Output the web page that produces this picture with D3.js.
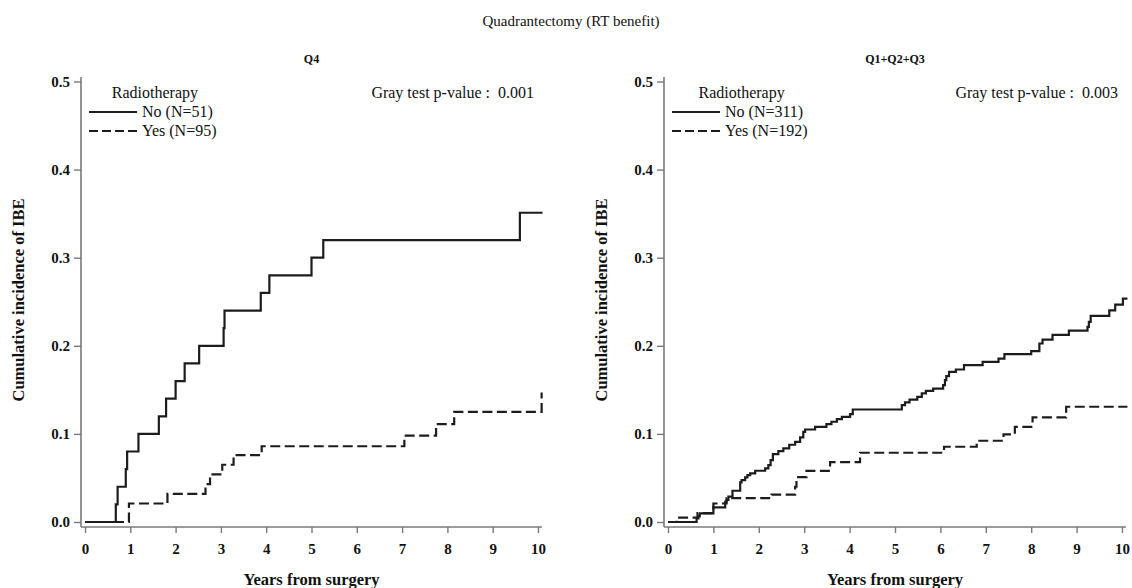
<!DOCTYPE html>
<html>
<head>
<meta charset="utf-8">
<script src="https://cdn.jsdelivr.net/npm/d3@7"></script>
<style>
  body { margin: 0; background: #fff; }
  svg text { font-family: "Liberation Serif", "Times New Roman", serif; fill: #111; }
</style>
</head>
<body>
<svg id="chart" width="1132" height="588"></svg>
<script>
// panel titles, legend and test text
const panelTitles = ['Q4', 'Q1+Q2+Q3'];
const pValues = ['0.001', '0.003'];
const legendNo = ['No (N=51)', 'No (N=311)'];
const legendYes = ['Yes (N=95)', 'Yes (N=192)'];
const xTicks = [0, 1, 2, 3, 4, 5, 6, 7, 8, 9, 10];
const yTicks = [0, 0.1, 0.2, 0.3, 0.4, 0.5];

// Q4, no radiotherapy
const q4NoTime = [0, 0.68, 0.72, 0.90, 0.93, 1.18, 1.63, 1.79, 2.0, 2.2, 2.52, 3.06, 3.08, 3.88, 4.07, 5.0, 5.26, 9.6, 10.1];
const q4NoCif = [0, 0.02, 0.04, 0.06, 0.08, 0.10, 0.12, 0.14, 0.16, 0.18, 0.20, 0.22, 0.24, 0.26, 0.28, 0.30, 0.32, 0.351, 0.351];
// Q4, radiotherapy
const q4YesTime = [0, 0.97, 1.82, 2.66, 2.76, 3.03, 3.28, 3.9, 7.05, 7.75, 8.15, 10.08];
const q4YesCif = [0, 0.021, 0.032, 0.043, 0.054, 0.065, 0.076, 0.086, 0.098, 0.111, 0.125, 0.147];

// Q1+Q2+Q3, no radiotherapy
const qOthNoTime = [0, 0.63, 0.67, 0.70, 1.0, 1.26, 1.29, 1.33, 1.42, 1.59, 1.62, 1.70, 1.75, 1.81, 1.92,
  2.14, 2.21, 2.26, 2.31, 2.43, 2.54, 2.67, 2.80, 2.91, 2.98, 3.02, 3.24, 3.49, 3.60, 3.72, 3.83, 4.01, 4.07,
  5.15, 5.22, 5.32, 5.49, 5.59, 5.68, 5.84, 6.06, 6.10, 6.13, 6.19, 6.34, 6.52, 6.93, 7.28, 7.41,
  8.00, 8.18, 8.25, 8.47, 8.83, 9.24, 9.27, 9.31, 9.72, 9.85, 10.02, 10.12];
const qOthNoCif = [0, 0.004, 0.0064, 0.0098, 0.0166, 0.023, 0.025, 0.0287, 0.0355, 0.045, 0.0476, 0.0506, 0.0533, 0.0552, 0.0582,
  0.0608, 0.0646, 0.0703, 0.077, 0.0805, 0.0835, 0.0877, 0.091, 0.096, 0.1024, 0.105, 0.108, 0.111, 0.1138, 0.1168, 0.1194, 0.1224, 0.1277,
  0.1327, 0.1357, 0.139, 0.1421, 0.1459, 0.1489, 0.1515, 0.1553, 0.161, 0.1655, 0.1704, 0.1731, 0.178, 0.1818, 0.1855, 0.1905,
  0.1939, 0.2026, 0.2071, 0.2124, 0.2173, 0.2215, 0.2271, 0.2339, 0.2403, 0.2468, 0.2536, 0.2536];
// Q1+Q2+Q3, radiotherapy
const qOthYesTime = [0, 0.19, 0.65, 1.0, 1.29, 2.28, 2.80, 2.83, 3.05, 3.57, 4.23, 6.08, 6.80, 7.39, 7.64, 8.03, 8.77, 10.12];
const qOthYesCif = [0, 0.005, 0.01, 0.021, 0.027, 0.031, 0.04, 0.051, 0.058, 0.068, 0.0786, 0.0854, 0.0922, 0.0994, 0.108, 0.1187, 0.1308, 0.1308];

const svg = d3.select('#chart');
const ink = '#1c1c1c';
const axisGrey = '#7a7a7a';

svg.append('text')
  .attr('x', 571).attr('y', 26)
  .attr('text-anchor', 'middle')
  .attr('font-size', 15)
  .text('Quadrantectomy (RT benefit)');

const panels = [
  { x0: 85, x1: 538, axisX: 81, no: [q4NoTime, q4NoCif], yes: [q4YesTime, q4YesCif] },
  { x0: 668, x1: 1122, axisX: 664, no: [qOthNoTime, qOthNoCif], yes: [qOthYesTime, qOthYesCif] }
];

const y = d3.scaleLinear().domain([0, 0.5]).range([522, 81.5]);
const axisY = 527;

panels.forEach((p, i) => {
  const x = d3.scaleLinear().domain([0, 10]).range([p.x0, p.x1]);
  const g = svg.append('g');
  const mid = (p.x0 + p.x1) / 2;

  // axes
  const yAxis = g.append('g')
    .attr('transform', `translate(${p.axisX},0)`)
    .call(d3.axisLeft(y).tickValues(yTicks).tickFormat(d3.format('.1f')).tickSize(7).tickPadding(4));
  const xAxis = g.append('g')
    .attr('transform', `translate(0,${axisY})`)
    .call(d3.axisBottom(x).tickValues(xTicks).tickFormat(d3.format('d')).tickSize(6).tickPadding(10));
  [yAxis, xAxis].forEach(a => {
    a.select('.domain').remove();
    a.selectAll('line').attr('stroke', axisGrey).attr('stroke-width', 1.4);
    a.selectAll('text')
      .attr('font-family', '"Liberation Serif", serif')
      .attr('font-weight', 'bold').attr('font-size', 15).attr('fill', '#111');
  });
  g.append('line')
    .attr('x1', p.axisX).attr('x2', p.axisX)
    .attr('y1', 77).attr('y2', axisY)
    .attr('stroke', axisGrey).attr('stroke-width', 1.6);
  g.append('line')
    .attr('x1', p.axisX).attr('x2', x(10) + 4)
    .attr('y1', axisY).attr('y2', axisY)
    .attr('stroke', axisGrey).attr('stroke-width', 1.6);

  // titles
  g.append('text')
    .attr('x', mid).attr('y', 63)
    .attr('text-anchor', 'middle')
    .attr('font-size', 12).attr('font-weight', 'bold')
    .text(panelTitles[i]);
  g.append('text')
    .attr('x', mid).attr('y', 585)
    .attr('text-anchor', 'middle')
    .attr('font-size', 16.5).attr('font-weight', 'bold')
    .text('Years from surgery');
  g.append('text')
    .attr('transform', `translate(${p.axisX - 57},300) rotate(-90)`)
    .attr('text-anchor', 'middle')
    .attr('font-size', 16.5).attr('font-weight', 'bold')
    .text('Cumulative incidence of IBE');

  // curves
  const line = d3.line()
    .x(d => x(d[0]))
    .y(d => y(d[1]))
    .curve(d3.curveStepAfter);
  g.append('path')
    .datum(d3.zip(p.no[0], p.no[1]))
    .attr('d', line)
    .attr('fill', 'none').attr('stroke', ink).attr('stroke-width', 2.2);
  g.append('path')
    .datum(d3.zip(p.yes[0], p.yes[1]))
    .attr('d', line)
    .attr('fill', 'none').attr('stroke', ink).attr('stroke-width', 2.2)
    .attr('stroke-dasharray', '10,4.5');

  // legend
  const lx = p.axisX + 8;
  const legW = 48;
  const noLbl = g.append('text')
    .attr('x', lx + legW + 5).attr('y', 117)
    .attr('font-size', 16)
    .text(legendNo[i]);
  g.append('text')
    .attr('x', lx + legW + 5).attr('y', 136)
    .attr('font-size', 16)
    .text(legendYes[i]);
  g.append('line')
    .attr('x1', lx).attr('x2', lx + legW)
    .attr('y1', 112).attr('y2', 112)
    .attr('stroke', ink).attr('stroke-width', 2.2);
  g.append('line')
    .attr('x1', lx).attr('x2', lx + legW)
    .attr('y1', 131).attr('y2', 131)
    .attr('stroke', ink).attr('stroke-width', 2.2)
    .attr('stroke-dasharray', '9,4');
  const yesW = lx + legW + 5 + noLbl.node().getComputedTextLength() + 8;
  g.append('text')
    .attr('x', (lx + yesW) / 2).attr('y', 98)
    .attr('text-anchor', 'middle')
    .attr('font-size', 16)
    .text('Radiotherapy');

  g.append('text')
    .attr('x', p.x1 - 4).attr('y', 98)
    .attr('text-anchor', 'end')
    .attr('font-size', 16)
    .style('white-space', 'pre')
    .text('Gray test p-value :  ' + pValues[i]);
});
</script>
</body>
</html>
